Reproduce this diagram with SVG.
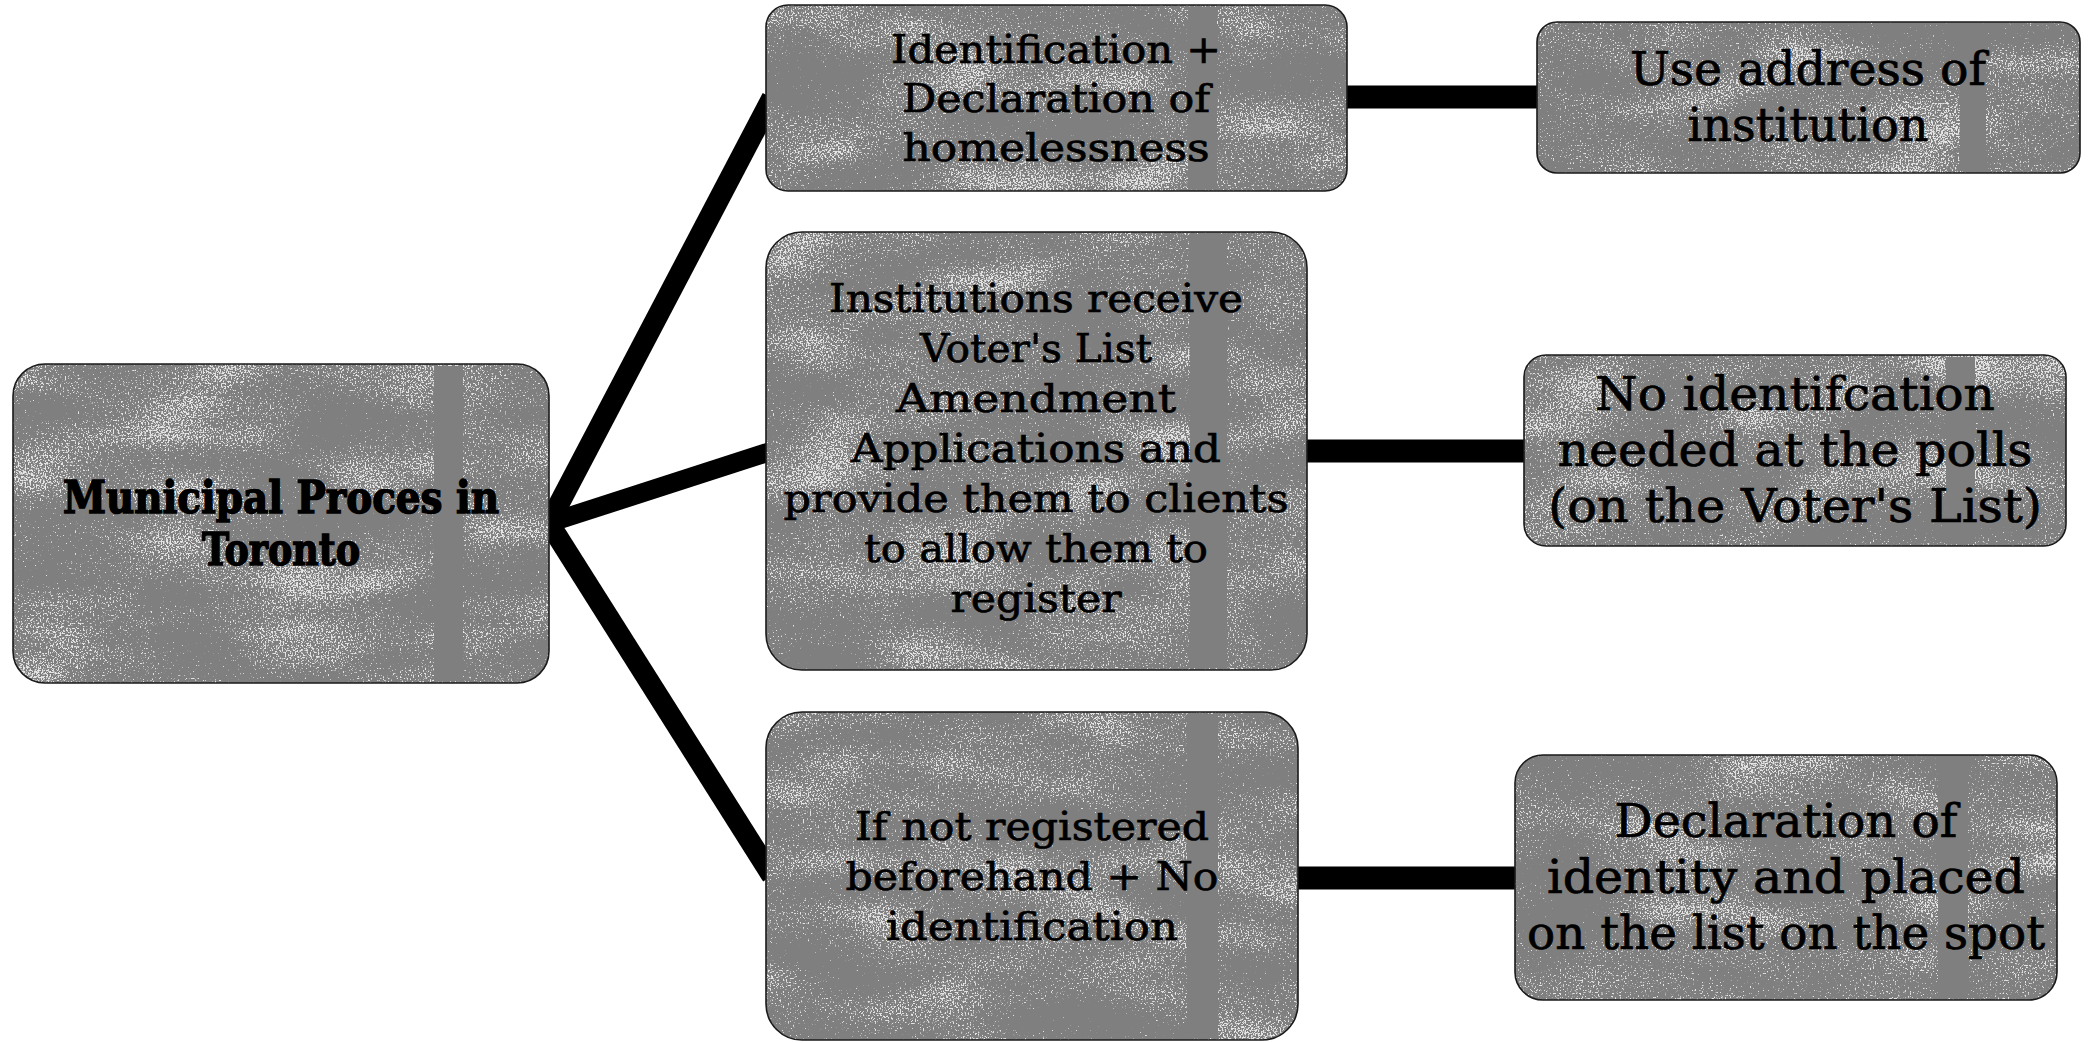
<svg xmlns="http://www.w3.org/2000/svg" width="2090" height="1043" viewBox="0 0 2090 1043">
<defs>
<filter id="grain" x="0" y="0" width="1" height="1" color-interpolation-filters="sRGB">
  <feTurbulence type="fractalNoise" baseFrequency="0.6" numOctaves="2" seed="4" result="f0"/>
  <feColorMatrix in="f0" type="matrix" values="1 0 0 0 0  0 1 0 0 0  0 0 1 0 0  0 0 0 0 1" result="fine"/>
  <feTurbulence type="fractalNoise" baseFrequency="0.008 0.02" numOctaves="2" seed="11" result="c0"/>
  <feColorMatrix in="c0" type="matrix" values="1 0 0 0 0  0 1 0 0 0  0 0 1 0 0  0 0 0 0 1" result="coarse"/>
  <feComposite in="fine" in2="coarse" operator="arithmetic" k1="0" k2="1" k3="0.55" k4="-0.27" result="sum"/>
  <feColorMatrix in="sum" type="matrix" values="0 0 0 0 1  0 0 0 0 1  0 0 0 0 1  9 0 0 0 -5.5" result="spk"/>
  <feComposite in="spk" in2="SourceAlpha" operator="in"/>
</filter>
<style>
.base{fill:#7f7f7f;stroke:none}
.spk{fill:#fff;filter:url(#grain);opacity:0.8}
.strip{fill:#7f7f7f}
.edge{fill:none;stroke:#1a1a1a;stroke-width:1.6}
.t{font-family:"DejaVu Serif","Liberation Serif",serif;fill:#000;stroke:#000;stroke-width:0.7;text-anchor:middle}
.tb{font-family:"DejaVu Serif Condensed","DejaVu Serif",serif;font-weight:bold;fill:#000;stroke:#000;stroke-width:1.4;text-anchor:middle}
.conn line{stroke:#000;stroke-linecap:butt}
</style>
</defs>
<rect width="2090" height="1043" fill="#fff"/>

<g id="connectors" class="conn">
  <line x1="549" y1="523" x2="772" y2="98" stroke-width="21"/>
  <line x1="549" y1="523" x2="772" y2="451" stroke-width="19"/>
  <line x1="549" y1="523" x2="772" y2="876" stroke-width="21"/>
  <line x1="1345" y1="97" x2="1539" y2="97" stroke-width="23"/>
  <line x1="1305" y1="451" x2="1526" y2="451" stroke-width="23"/>
  <line x1="1296" y1="878" x2="1517" y2="878" stroke-width="23"/>
</g>

<g id="node-root">
  <rect class="base" x="13" y="364" width="536" height="319" rx="32"/>
  <rect class="spk" x="13" y="364" width="536" height="319" rx="32"/>
  <rect class="strip" x="434" y="366" width="29" height="315"/>
  <rect class="edge" x="13" y="364" width="536" height="319" rx="32"/>
  <text class="tb" x="281" y="513" font-size="44" textLength="436" lengthAdjust="spacingAndGlyphs">Municipal Proces in</text>
  <text class="tb" x="281" y="565" font-size="44" textLength="158" lengthAdjust="spacingAndGlyphs">Toronto</text>
</g>

<g id="node-a">
  <rect class="base" x="766" y="5" width="581" height="186" rx="22"/>
  <rect class="spk" x="766" y="5" width="581" height="186" rx="22"/>
  <rect class="strip" x="1188" y="7" width="29" height="182"/>
  <rect class="edge" x="766" y="5" width="581" height="186" rx="22"/>
  <text class="t" x="1056" y="63" font-size="40" textLength="330" lengthAdjust="spacingAndGlyphs">Identification +</text>
  <text class="t" x="1056" y="112" font-size="40" textLength="308" lengthAdjust="spacingAndGlyphs">Declaration of</text>
  <text class="t" x="1056" y="161" font-size="40" textLength="307" lengthAdjust="spacingAndGlyphs">homelessness</text>
</g>

<g id="node-b">
  <rect class="base" x="766" y="232" width="541" height="438" rx="36"/>
  <rect class="spk" x="766" y="232" width="541" height="438" rx="36"/>
  <rect class="strip" x="1190" y="234" width="37" height="434"/>
  <rect class="edge" x="766" y="232" width="541" height="438" rx="36"/>
  <text class="t" x="1036" y="312" font-size="40" textLength="414" lengthAdjust="spacingAndGlyphs">Institutions receive</text>
  <text class="t" x="1036" y="362" font-size="40" textLength="232" lengthAdjust="spacingAndGlyphs">Voter's List</text>
  <text class="t" x="1036" y="412" font-size="40" textLength="280" lengthAdjust="spacingAndGlyphs">Amendment</text>
  <text class="t" x="1036" y="462" font-size="40" textLength="370" lengthAdjust="spacingAndGlyphs">Applications and</text>
  <text class="t" x="1036" y="512" font-size="40" textLength="505" lengthAdjust="spacingAndGlyphs">provide them to clients</text>
  <text class="t" x="1036" y="562" font-size="40" textLength="344" lengthAdjust="spacingAndGlyphs">to allow them to</text>
  <text class="t" x="1036" y="612" font-size="40" textLength="171" lengthAdjust="spacingAndGlyphs">register</text>
</g>

<g id="node-c">
  <rect class="base" x="766" y="712" width="532" height="328" rx="36"/>
  <rect class="spk" x="766" y="712" width="532" height="328" rx="36"/>
  <rect class="strip" x="1187" y="714" width="31" height="324"/>
  <rect class="edge" x="766" y="712" width="532" height="328" rx="36"/>
  <text class="t" x="1032" y="840" font-size="40" textLength="354" lengthAdjust="spacingAndGlyphs">If not registered</text>
  <text class="t" x="1032" y="890" font-size="40" textLength="373" lengthAdjust="spacingAndGlyphs">beforehand + No</text>
  <text class="t" x="1032" y="940" font-size="40" textLength="292" lengthAdjust="spacingAndGlyphs">identification</text>
</g>

<g id="node-d">
  <rect class="base" x="1537" y="22" width="543" height="151" rx="20"/>
  <rect class="spk" x="1537" y="22" width="543" height="151" rx="20"/>
  <rect class="strip" x="1960" y="24" width="26" height="147"/>
  <rect class="edge" x="1537" y="22" width="543" height="151" rx="20"/>
  <text class="t" x="1808" y="85" font-size="46" textLength="356" lengthAdjust="spacingAndGlyphs">Use address of</text>
  <text class="t" x="1808" y="141" font-size="46" textLength="241" lengthAdjust="spacingAndGlyphs">institution</text>
</g>

<g id="node-e">
  <rect class="base" x="1524" y="355" width="542" height="191" rx="22"/>
  <rect class="spk" x="1524" y="355" width="542" height="191" rx="22"/>
  <rect class="strip" x="1946" y="357" width="29" height="187"/>
  <rect class="edge" x="1524" y="355" width="542" height="191" rx="22"/>
  <text class="t" x="1795" y="410" font-size="46" textLength="400" lengthAdjust="spacingAndGlyphs">No identifcation</text>
  <text class="t" x="1795" y="466" font-size="46" textLength="475" lengthAdjust="spacingAndGlyphs">needed at the polls</text>
  <text class="t" x="1795" y="522" font-size="46" textLength="494" lengthAdjust="spacingAndGlyphs">(on the Voter's List)</text>
</g>

<g id="node-f">
  <rect class="base" x="1515" y="755" width="542" height="245" rx="28"/>
  <rect class="spk" x="1515" y="755" width="542" height="245" rx="28"/>
  <rect class="strip" x="1938" y="757" width="30" height="241"/>
  <rect class="edge" x="1515" y="755" width="542" height="245" rx="28"/>
  <text class="t" x="1786" y="837" font-size="46" textLength="343" lengthAdjust="spacingAndGlyphs">Declaration of</text>
  <text class="t" x="1786" y="893" font-size="46" textLength="478" lengthAdjust="spacingAndGlyphs">identity and placed</text>
  <text class="t" x="1786" y="949" font-size="46" textLength="518" lengthAdjust="spacingAndGlyphs">on the list on the spot</text>
</g>
</svg>
